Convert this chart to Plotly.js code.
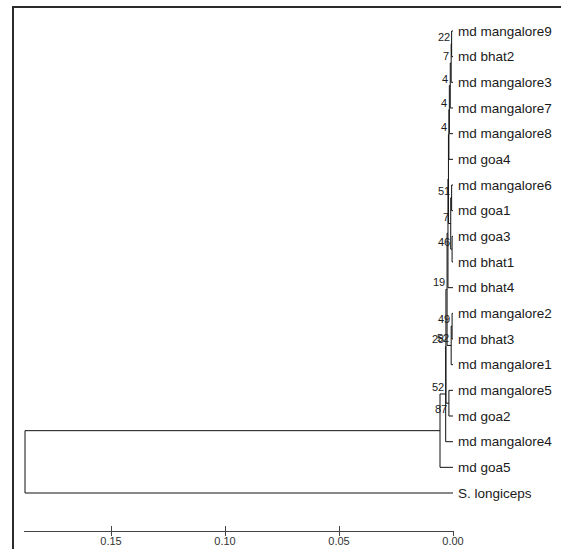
<!DOCTYPE html>
<html><head><meta charset="utf-8">
<script src="https://cdn.plot.ly/plotly-3.0.1.min.js"></script>
<style>
html,body{margin:0;padding:0;background:#fff;overflow:hidden}
#chart{position:absolute;left:0;top:0;width:561px;height:549px}
#frame{position:absolute;left:12px;top:6px;width:600px;height:600px;border-top:2px solid #2b2b2b;border-left:2px solid #2b2b2b;pointer-events:none}
</style></head><body>
<div id="chart"></div><div id="frame"></div>
<script>
// Leaves, top to bottom
const leaves = ["md mangalore9","md bhat2","md mangalore3","md mangalore7","md mangalore8","md goa4",
  "md mangalore6","md goa1","md goa3","md bhat1","md bhat4","md mangalore2","md bhat3",
  "md mangalore1","md mangalore5","md goa2","md mangalore4","md goa5","S. longiceps"];
// Internal nodes (children before parents)
const nodeIds = ["N1","N2","N3","N4","N5","C1","C2","V","U","Q","F","F2","P","K","P2","X","I","R"];
const nodeChildren = [
  ["md mangalore9","md bhat2"],
  ["N1","md mangalore3"],
  ["N2","md mangalore7"],
  ["N3","md mangalore8"],
  ["N4","md goa4"],
  ["md mangalore6","md goa1"],
  ["md goa3","md bhat1"],
  ["C1","C2"],
  ["N5","V"],
  ["U","md bhat4"],
  ["md mangalore2","md bhat3"],
  ["F","md mangalore1"],
  ["Q","F2"],
  ["md mangalore5","md goa2"],
  ["P","K"],
  ["P2","md mangalore4"],
  ["X","md goa5"],
  ["I","S. longiceps"]
];
// Node heights (distance units, x axis)
const nodeHeights = [0.0006,0.0008,0.0012,0.0016,0.0018,0.0006,0.0004,0.0010,0.0020,0.0022,
  0.0004,0.0008,0.0026,0.0018,0.0031,0.0032,0.0057,0.18772];
// Bootstrap support values
const bootstrap = [22,7,4,4,4,51,46,7,null,null,49,52,19,87,28,52,null,null];
const xTicks = [0.15,0.10,0.05,0.00];

// label placement style (nodes whose support value sits below the branch)
const labelBelow = {K:true};

const pos = {};
leaves.forEach((n,i)=>{pos[n]={x:0,y:i};});
nodeIds.forEach((id,k)=>{
  const cy = nodeChildren[k].map(c=>pos[c].y);
  pos[id] = {x:nodeHeights[k], y:(Math.min(...cy)+Math.max(...cy))/2};
});
const lx=[], ly=[];
nodeIds.forEach((id,k)=>{
  const p = pos[id];
  const cy = nodeChildren[k].map(c=>pos[c].y);
  lx.push(p.x,p.x,null); ly.push(Math.min(...cy),Math.max(...cy),null);
  nodeChildren[k].forEach(c=>{lx.push(p.x,pos[c].x,null); ly.push(pos[c].y,pos[c].y,null);});
});

const FONT = 'Arial, "Liberation Sans", sans-serif';
const annotations = [];
leaves.forEach(n=>{
  annotations.push({x:pos[n].x, y:pos[n].y, xref:'x', yref:'y', text:n, showarrow:false,
    xanchor:'left', yanchor:'middle', xshift:3,
    font:{family:FONT, size:13.5, color:'#1a1a1a'}});
});
nodeIds.forEach((id,k)=>{
  if(bootstrap[k]===null) return;
  const below = !!labelBelow[id];
  annotations.push({x:pos[id].x, y:pos[id].y, xref:'x', yref:'y', text:String(bootstrap[k]), showarrow:false,
    xanchor:'right', yanchor: below ? 'top' : 'bottom', xshift:0, yshift: below ? 2 : -1,
    font:{family:FONT, size:11, color:'#1a1a1a'}});
});

const traces = [
  {type:'scatter', mode:'lines', x:lx, y:ly, line:{color:'#111', width:1}, hoverinfo:'skip'},
  {type:'scatter', mode:'lines', x:[], y:[], xaxis:'x2', yaxis:'y', hoverinfo:'skip'}
];
const xr = [0.18816, -0.000439];
const layout = {
  width:561, height:549, showlegend:false,
  paper_bgcolor:'#fff', plot_bgcolor:'rgba(0,0,0,0)',
  margin:{l:24, r:107, t:6, b:18},
  xaxis:{range:xr, showgrid:false, zeroline:false, showline:true, linecolor:'#444', linewidth:1,
    ticks:'outside', ticklen:4, tickcolor:'#444', tickwidth:1, tickvals:xTicks, tickformat:'.2f',
    ticklabelstandoff:-4,
    tickfont:{family:FONT, size:11, color:'#333'}, fixedrange:true},
  xaxis2:{range:xr, overlaying:'x', anchor:'y', side:'bottom', showgrid:false, zeroline:false,
    showline:false, ticks:'inside', ticklen:5, tickcolor:'#444', tickwidth:1, tickvals:xTicks,
    showticklabels:false, fixedrange:true},
  yaxis:{range:[19.48,-0.974], visible:false, fixedrange:true},
  annotations:annotations
};
Plotly.newPlot('chart', traces, layout, {staticPlot:true, displayModeBar:false});
</script>
</body></html>
